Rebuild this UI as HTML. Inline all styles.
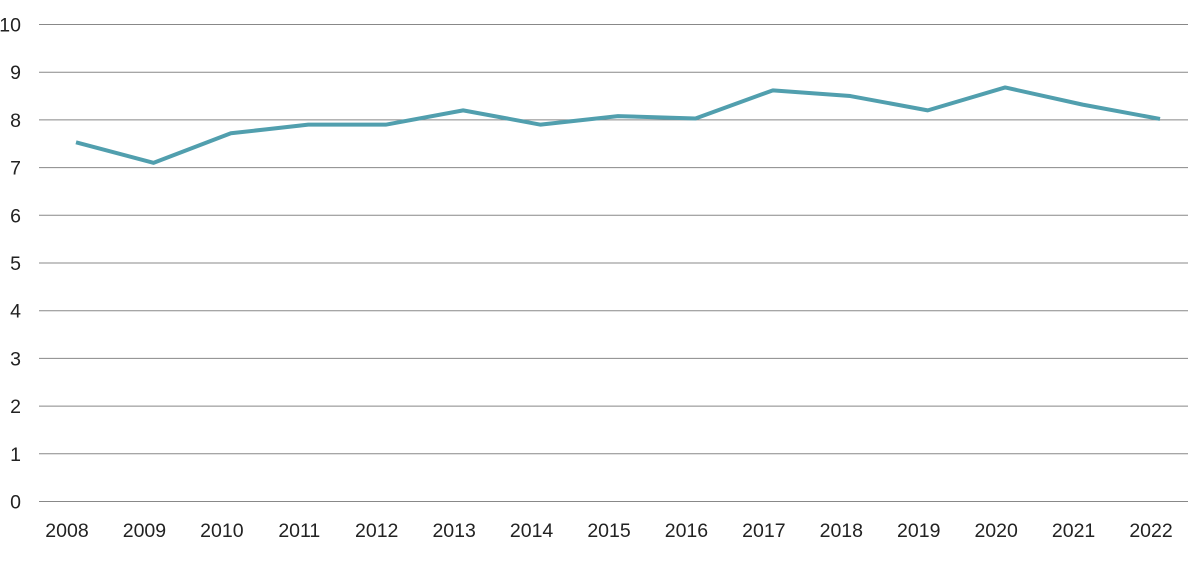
<!DOCTYPE html>
<html><head><meta charset="utf-8"><style>
html,body{margin:0;padding:0;background:#fff;}
svg text{font-family:"Liberation Sans",sans-serif;font-size:19.5px;fill:#222;}
</style></head><body>
<svg id="chart" width="1200" height="558" xmlns="http://www.w3.org/2000/svg">
<g id="grid"></g>
<g id="ylab"></g>
<g id="xlab"></g>
<path id="line" fill="none" stroke="#519fae" stroke-width="4" stroke-linejoin="round"/>
</svg>
<script>
const years = ["2008","2009","2010","2011","2012","2013","2014","2015","2016","2017","2018","2019","2020","2021","2022"];
const values = [7.53,7.1,7.72,7.9,7.9,8.2,7.9,8.08,8.03,8.62,8.5,8.2,8.68,8.32,8.02];
const yTicks = [0,1,2,3,4,5,6,7,8,9,10];
const NS="http://www.w3.org/2000/svg";
const y0=501.5, yUnit=47.7, x0=76, xStep=77.43;
const ys=v=>y0-v*yUnit, xs=i=>x0+i*xStep;
const grid=document.getElementById('grid'), yl=document.getElementById('ylab'), xl=document.getElementById('xlab');
yTicks.forEach(t=>{
 const l=document.createElementNS(NS,'line');
 
 
 l.setAttribute('x1',39);l.setAttribute('x2',1188);l.setAttribute('y1',ys(t));l.setAttribute('y2',ys(t));
 l.setAttribute('stroke','#888');l.setAttribute('stroke-width','1');
 grid.appendChild(l);
 const tx=document.createElementNS(NS,'text');
 
 
 tx.setAttribute('x',21);tx.setAttribute('y',ys(t)+7);tx.setAttribute('text-anchor','end');
 tx.textContent=t;yl.appendChild(tx);
});
years.forEach((y,i)=>{
 const tx=document.createElementNS(NS,'text');
 
 
 tx.setAttribute('x',xs(i)-9);tx.setAttribute('y',537);tx.setAttribute('text-anchor','middle');
 tx.textContent=y;xl.appendChild(tx);
});
document.getElementById('line').setAttribute('d',values.map((v,i)=>(i?'L':'M')+xs(i)+','+ys(v)).join(' '));
</script>
</body></html>
